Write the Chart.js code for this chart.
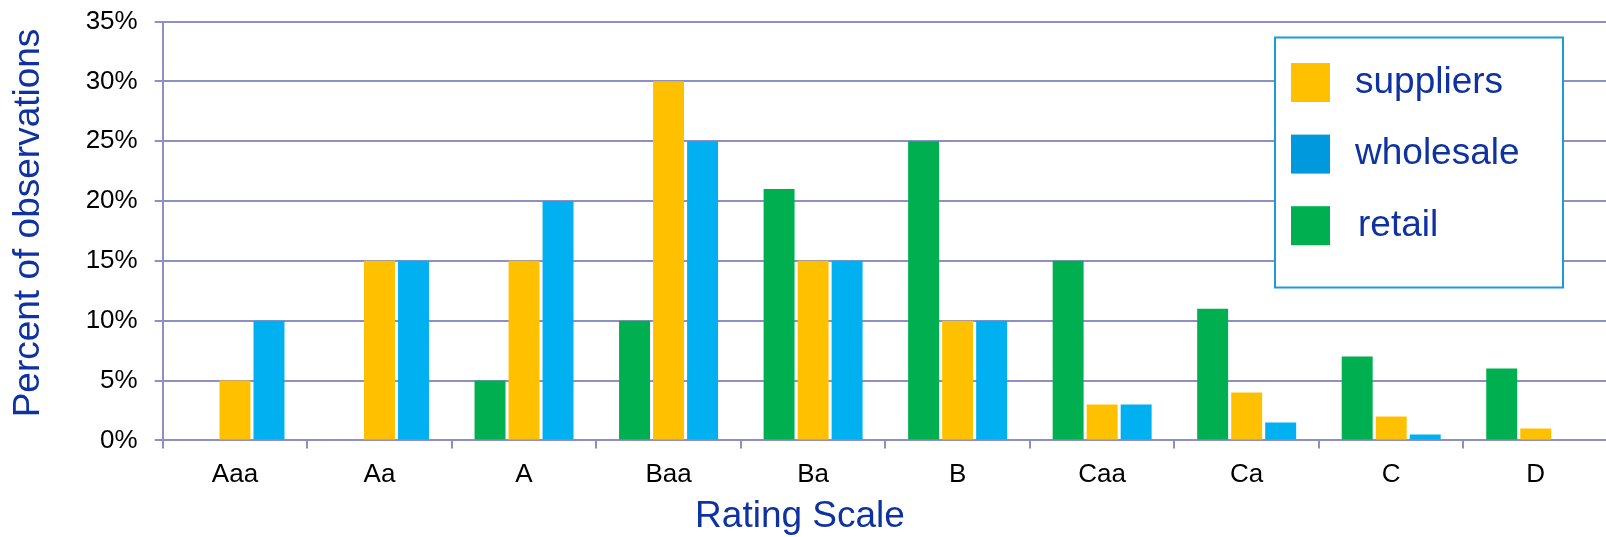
<!DOCTYPE html>
<html>
<head>
<meta charset="utf-8">
<title>Percent of observations by rating</title>
<script src="https://cdn.jsdelivr.net/npm/chart.js@4"></script>
<style>
  html, body { margin: 0; padding: 0; background: #fff; overflow: hidden; }
  #wrap { width: 1610px; height: 537px; }
</style>
</head>
<body>
<div id="wrap"><canvas id="chart" width="1610" height="537"></canvas></div>
<script>
// Rating categories on the x axis
const categories = ['Aaa', 'Aa', 'A', 'Baa', 'Ba', 'B', 'Caa', 'Ca', 'C', 'D'];

// Share of observations (%) per rating, one array per sector
const retail     = [0, 0, 5, 10, 21, 25, 15, 11, 7, 6];
const suppliers  = [5, 15, 15, 30, 15, 10, 3, 4, 2, 1];
const wholesale  = [10, 15, 20, 25, 15, 10, 3, 1.5, 0.5, 0];

// Y axis range and tick step (percent)
const yMin = 0;
const yMax = 35;
const yStep = 5;

// Axis titles
const xTitle = 'Rating Scale';
const yTitle = 'Percent of observations';

// Order of entries in the legend box
const legendOrder = ['suppliers', 'wholesale', 'retail'];

const FONT = '"Liberation Sans", Arial, Helvetica, sans-serif';
const TITLE_BLUE = '#0f32a2';
const GRID = '#8c90c4';

// Axis titles placed relative to the canvas
const axisTitles = {
  id: 'axisTitles',
  afterDraw(chart) {
    const ctx = chart.ctx;
    ctx.save();
    ctx.fillStyle = TITLE_BLUE;
    ctx.font = '37px ' + FONT;
    ctx.textAlign = 'center';
    ctx.textBaseline = 'middle';
    ctx.fillText(xTitle, 800, 517);
    ctx.translate(28.5, 223);
    ctx.rotate(-Math.PI / 2);
    ctx.fillText(yTitle, 0, 0);
    ctx.restore();
  }
};

// Legend drawn as a framed box in the upper right of the plot
const boxLegend = {
  id: 'boxLegend',
  afterDraw(chart) {
    const ctx = chart.ctx;
    const bx = 1275, by = 37.5, bw = 288, bh = 250;
    ctx.save();
    ctx.fillStyle = '#ffffff';
    ctx.fillRect(bx, by, bw, bh);
    ctx.strokeStyle = '#1d9ad9';
    ctx.lineWidth = 2;
    ctx.strokeRect(bx, by, bw, bh);

    ctx.font = '37px ' + FONT;
    ctx.textBaseline = 'middle';
    ctx.textAlign = 'left';
    legendOrder.forEach((name, i) => {
      const ds = chart.data.datasets.find(d => d.label === name);
      const sy = 63 + i * 71.6;
      ctx.fillStyle = ds.legendSwatch || ds.backgroundColor;
      ctx.fillRect(1291, sy, 39, 39);
      ctx.fillStyle = TITLE_BLUE;
      ctx.fillText(ds.label, 1355 + (name === 'retail' ? 3 : 0), sy + 19.5);
    });
    ctx.restore();
  }
};

new Chart(document.getElementById('chart'), {
  type: 'bar',
  data: {
    labels: categories,
    datasets: [
      { label: 'retail', data: retail, backgroundColor: '#00b050' },
      { label: 'suppliers', data: suppliers, backgroundColor: '#ffc000' },
      { label: 'wholesale', data: wholesale, backgroundColor: '#00b0f0', legendSwatch: '#0099dd' }
    ]
  },
  options: {
    responsive: false,
    devicePixelRatio: 1,
    animation: false,
    layout: { padding: { left: 0, top: 21.5, right: 2, bottom: 0 } },
    datasets: {
      bar: { categoryPercentage: 0.706, barPercentage: 0.91, borderWidth: 0 }
    },
    plugins: {
      legend: { display: false },
      tooltip: { enabled: false }
    },
    scales: {
      x: {
        offset: true,
        grid: {
          offset: true,
          drawOnChartArea: false,
          drawTicks: true,
          tickLength: 8,
          color: GRID,
          lineWidth: 2
        },
        border: { display: true, color: GRID, width: 2 },
        ticks: {
          color: '#000',
          padding: 11,
          font: { family: FONT, size: 26 },
          maxRotation: 0,
          autoSkip: false
        },
        afterFit(scale) { scale.height = 537 - 440.4; }
      },
      y: {
        min: yMin,
        max: yMax,
        grid: {
          drawTicks: true,
          tickLength: 8,
          color: GRID,
          lineWidth: 2
        },
        border: { display: true, color: GRID, width: 2 },
        ticks: {
          stepSize: yStep,
          color: '#000',
          padding: 17,
          font: { family: FONT, size: 26 },
          callback: v => v + '%'
        },
        afterFit(scale) {
          scale.width = 162.7;
          scale.paddingTop = 0;
        }
      }
    }
  },
  plugins: [boxLegend, axisTitles]
});
</script>
</body>
</html>
